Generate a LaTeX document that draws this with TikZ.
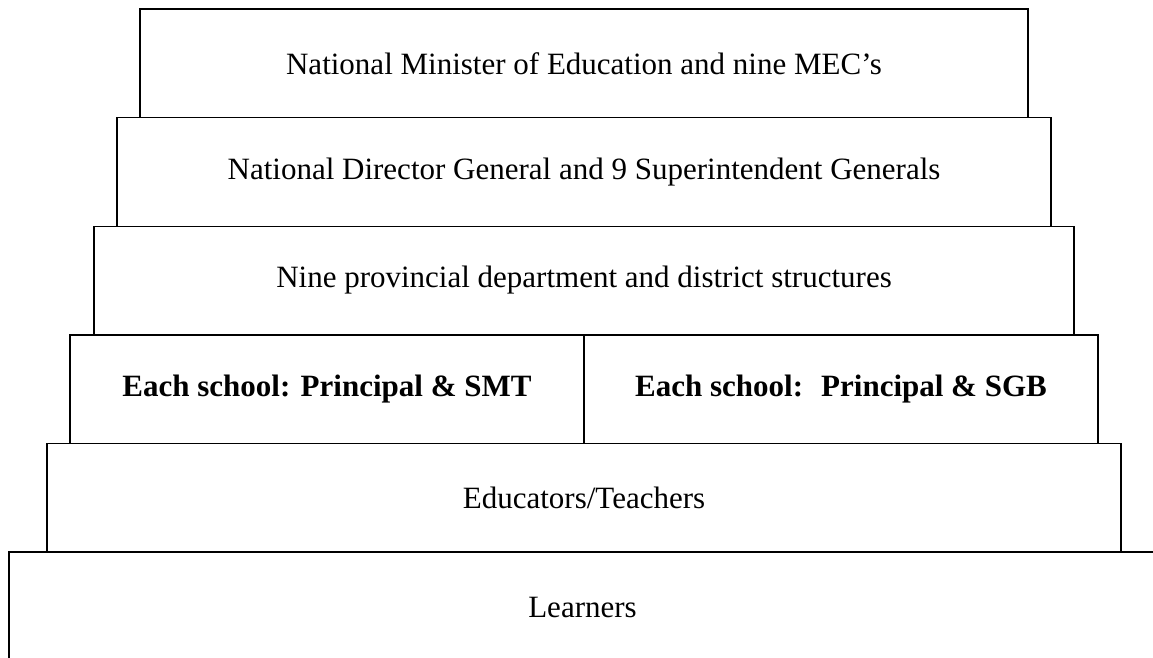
\documentclass[tikz,border=0pt]{standalone}
\usepackage{fontspec}
\setmainfont{Liberation Serif}
\usepackage{tikz}
\usetikzlibrary{positioning}

\tikzset{tier/.style={draw, line width=1.4pt, inner sep=0pt, outer sep=0pt,
  minimum height=108.6pt, font=\fontsize{31}{36}\selectfont}}

\begin{document}
\begin{tikzpicture}[x=1pt,y=1pt]
\useasboundingbox (0,0) rectangle (1153,-657);
\clip (0,0) rectangle (1153,-657);
\node[tier, minimum width=888pt, anchor=north](a) at (584,-9){National Minister of Education and nine MEC’s};
\node[tier, minimum width=934pt, below=0pt of a](b){National Director General and 9 Superintendent Generals};
\node[tier, minimum width=980pt, below=0pt of b](c){Nine provincial department and district structures};
\node[tier, minimum width=514pt, anchor=north east, font=\fontsize{31}{36}\selectfont\bfseries](smt) at (c.south){Each school: Principal \& SMT};
\node[tier, minimum width=514pt, anchor=north west, font=\fontsize{31}{36}\selectfont\bfseries](sgb) at (c.south){Each school: \ Principal \& SGB};
\node[tier, minimum width=1074pt, below=0pt of smt.south east](e){Educators/Teachers};
\node[tier, minimum width=1147pt, minimum height=110pt, below right=0pt and -38pt of e.south west](l){Learners};
\end{tikzpicture}
\end{document}
